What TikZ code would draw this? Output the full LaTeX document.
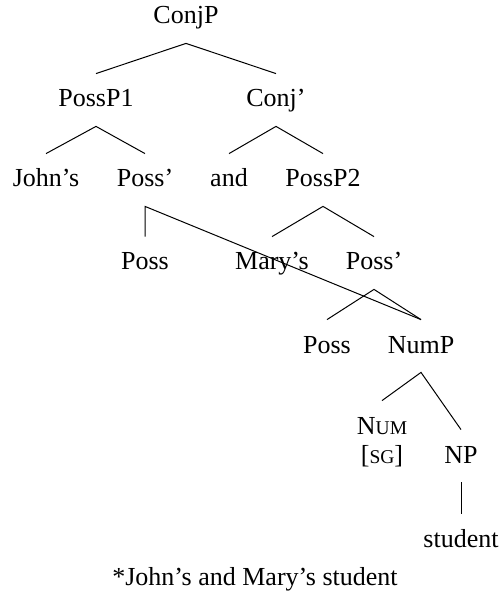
\documentclass[tikz,border=0pt]{standalone}
\usepackage{fontspec}
\setmainfont{Liberation Serif}
\newcommand\fakesc[1]{{\fontsize{9.75}{11}\selectfont #1}}
\begin{document}
\begin{tikzpicture}[x=0.5pt,y=-0.5pt,
  every node/.style={font=\fontsize{13}{15.6}\selectfont},
  lbl/.style={anchor=base,inner xsep=0pt,inner ysep=9.5pt,text height=7pt,text depth=0pt},
  plain/.style={anchor=base,inner sep=0pt},
  branch/.style={line width=0.5pt,black}]
\useasboundingbox (0,0) rectangle (503,597);

% labels, placed by their baselines
\node[lbl] (conjp)  at (186,24)  {ConjP};
\node[lbl] (possp1) at (96,107)  {PossP1};
\node[lbl] (conjb)  at (276,107) {Conj’};
\node[lbl] (johns)  at (46,187)  {John’s};
\node[lbl] (possbA) at (145,187) {Poss’};
\node[lbl] (and)    at (229,187) {and};
\node[lbl] (possp2) at (323,187) {PossP2};
\node[lbl] (possA)  at (145,270) {Poss};
\node[lbl] (marys)  at (272,270) {Mary’s};
\node[lbl] (possbB) at (374,270) {Poss’};
\node[lbl] (possB)  at (327,353) {Poss};
\node[lbl] (nump)   at (421,353) {NumP};
\node[lbl] (num)    at (382,434) {N\fakesc{UM}};
\node[plain] (sg)   at (382,463) {[\fakesc{SG}]};
\node[lbl] (np)     at (461,463) {NP};
\node[lbl] (student) at (461,547) {student};
\node[plain] (caption) at (255,585) {*John’s and Mary’s student};

% branches
\draw[branch] (possp1.north) -- (conjp.south) -- (conjb.north);
\draw[branch] (johns.north) -- (possp1.south) -- (possbA.north);
\draw[branch] (and.north) -- (conjb.south) -- (possp2.north);
\draw[branch] (possA.north) -- (possbA.south) -- (nump.north);
\draw[branch] (marys.north) -- (possp2.south) -- (possbB.north);
\draw[branch] (possB.north) -- (possbB.south) -- (nump.north);
\draw[branch] (num.north) -- (nump.south) -- (np.north);
\draw[branch] (np.south) -- (student.north);
\end{tikzpicture}
\end{document}
